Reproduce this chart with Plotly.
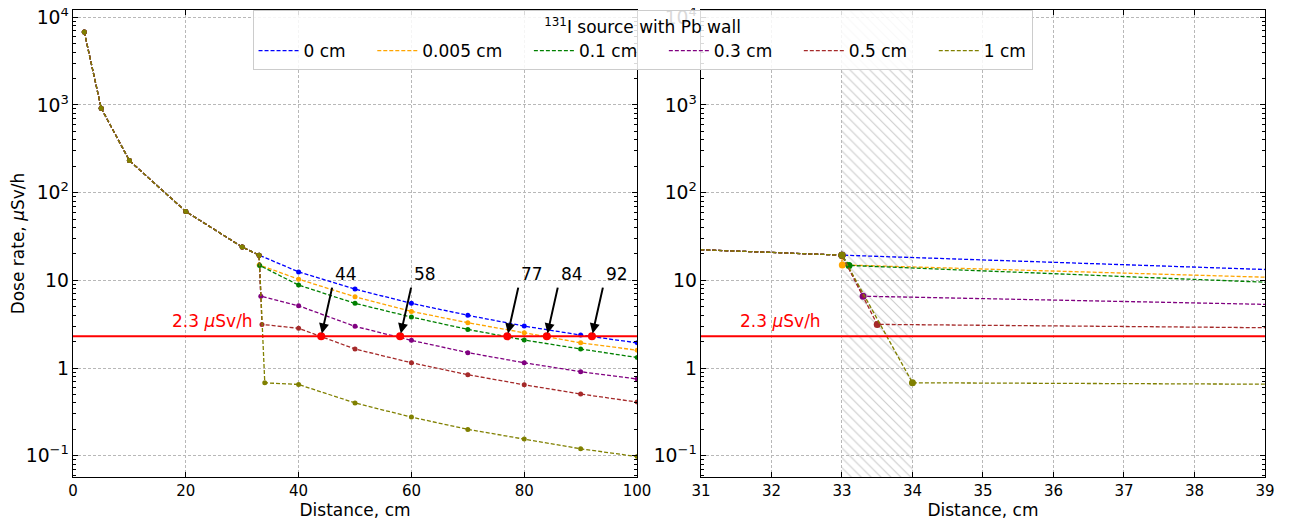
import math
import plotly.graph_objects as go

# ---------------- data ----------------
series_names = ["0 cm", "0.005 cm", "0.1 cm", "0.3 cm", "0.5 cm", "1 cm"]
series_colors = ["blue", "orange", "green", "purple", "brown", "olive"]
wall_thickness = [0, 0.005, 0.1, 0.3, 0.5, 1.0]

distance_near = [2, 5, 10, 20, 30, 33]
dose_near = [6800, 920, 232, 61, 24, 19.4]

dose_behind_wall = [None, 15.0, 14.8, 6.6, 3.15, 0.68]

distance_far = [40, 50, 60, 70, 80, 90, 100]
dose_far_0 = [12.5, 7.95, 5.47, 4.0, 3.01, 2.38, 1.94]
dose_far_0005 = [10.3, 6.5, 4.43, 3.29, 2.53, 1.94, 1.6]
dose_far_01 = [8.84, 5.47, 3.82, 2.76, 2.09, 1.65, 1.32]
dose_far_03 = [5.13, 2.99, 2.07, 1.5, 1.15, 0.91, 0.75]
dose_far_05 = [2.84, 1.65, 1.15, 0.84, 0.645, 0.506, 0.41]
dose_far_1 = [0.65, 0.40, 0.276, 0.20, 0.155, 0.12, 0.098]
dose_far = [dose_far_0, dose_far_0005, dose_far_01, dose_far_03, dose_far_05, dose_far_1]

limit_dose = 2.3
limit_label = "2.3 <i>μ</i>Sv/h"
crossing_distances = [44, 58, 77, 84, 92]

wall_start = 33
wall_end = 34

legend_title = "<sup>131</sup>I source with Pb wall"

# ---------------- figure ----------------
FONT = "DejaVu Sans"
LOG_RANGE = [-1.242, 4.083]
fig = go.Figure()

# hatched wall in the right panel (drawn first, behind lines)
ymin_plot, ymax_plot = 10 ** LOG_RANGE[0], 10 ** LOG_RANGE[1]
fig.add_trace(go.Scatter(
    x=[wall_start, wall_end, wall_end, wall_start, wall_start],
    y=[ymin_plot, ymin_plot, ymax_plot, ymax_plot, ymin_plot],
    mode="lines", fill="toself",
    line=dict(color="rgba(0,0,0,0)", width=0),
    fillcolor="rgba(0,0,0,0)",
    fillpattern=dict(shape="\\", fgcolor="#9a9a9a",
                     bgcolor="rgba(0,0,0,0)", size=7, solidity=0.16),
    showlegend=False, hoverinfo="skip", xaxis="x2", yaxis="y2"))

for i, name in enumerate(series_names):
    xs = list(distance_near)
    ys = list(dose_near)
    if dose_behind_wall[i] is not None:
        xs.append(wall_start + wall_thickness[i])
        ys.append(dose_behind_wall[i])
    xs += distance_far
    ys += dose_far[i]
    for xa, ya, msize in (("x", "y", 5), ("x2", "y2", 7)):
        fig.add_trace(go.Scatter(
            x=xs, y=ys, mode="lines+markers", name=name,
            line=dict(color=series_colors[i], width=1.3, dash="4px,2px"),
            marker=dict(color=series_colors[i], size=msize),
            xaxis=xa, yaxis=ya, showlegend=False,
        ))
    # legend-only entry (dashed line, no marker), padded for column spacing
    pad = "\u00a0" * 4 if i < len(series_names) - 1 else ""
    fig.add_trace(go.Scatter(
        x=[None], y=[None], mode="lines", name=name + pad,
        line=dict(color=series_colors[i], width=1.3, dash="4px,2px"),
        xaxis="x", yaxis="y", showlegend=True, legendrank=i + 1))

# crossing points
fig.add_trace(go.Scatter(
    x=crossing_distances, y=[limit_dose] * len(crossing_distances),
    mode="markers", marker=dict(color="red", size=8),
    showlegend=False, xaxis="x", yaxis="y"))

# limit lines
for xr, yr, x0, x1 in (("x", "y", 0, 100), ("x2", "y2", 31, 39)):
    fig.add_shape(type="line", xref=xr, yref=yr, x0=x0, x1=x1,
                  y0=limit_dose, y1=limit_dose,
                  line=dict(color="red", width=2))

annotations = []
for xr, yr, xt in (("x", "y", 17.2), ("x2", "y2", 31.52)):
    annotations.append(dict(x=xt, y=math.log10(limit_dose), xref=xr, yref=yr,
                            text=limit_label, showarrow=False,
                            xanchor="left", yanchor="bottom", yshift=3,
                            font=dict(color="red", size=17, family=FONT)))

tail_y = math.log10(8.6)
for d in crossing_distances:
    annotations.append(dict(x=d, y=math.log10(limit_dose), xref="x", yref="y",
                            ax=d + 2, ay=tail_y, axref="x", ayref="y",
                            text="", showarrow=True, arrowhead=2, arrowsize=1,
                            arrowwidth=2, arrowcolor="black", standoff=3))
    annotations.append(dict(x=d + 2.1, y=tail_y, xref="x", yref="y",
                            text=str(d), showarrow=False, xanchor="left",
                            yanchor="bottom", yshift=0,
                            font=dict(size=17, color="black", family=FONT)))

axis_common = dict(showline=True, linecolor="black", linewidth=1.2, mirror="allticks",
                   ticks="inside", ticklen=5, tickcolor="black", automargin=False,
                   ticklabeloverflow="allow",
                   showgrid=True, gridcolor="#b8b8b8", griddash="3px,2px", gridwidth=0.8,
                   zeroline=False, tickfont=dict(size=15, family=FONT, color="black"))
yaxis_common = dict(axis_common, type="log", range=LOG_RANGE, dtick=1,
                    exponentformat="power",
                    minor=dict(ticks="inside", ticklen=3, tickcolor="black",
                               dtick="D1", showgrid=False))

# page body has an 8px default margin: shrink figure to fit the window
fig.update_layout(
    width=1283, height=514,
    margin=dict(l=65, r=26, t=2, b=45, autoexpand=False),
    paper_bgcolor="white", plot_bgcolor="white",
    font=dict(family=FONT, size=15, color="black"),
    xaxis=dict(axis_common, domain=[0, 0.4732], range=[0, 100], dtick=20,
               title=dict(text="Distance, cm", font=dict(size=17), standoff=2)),
    xaxis2=dict(axis_common, domain=[0.5268, 1], range=[31, 39], dtick=1,
                title=dict(text="Distance, cm", font=dict(size=17), standoff=2)),
    yaxis=dict(yaxis_common, anchor="x",
               title=dict(text="Dose rate, <i>μ</i>Sv/h", font=dict(size=17), standoff=6)),
    yaxis2=dict(yaxis_common, anchor="x2"),
    legend=dict(orientation="h", x=0.4778, y=1.0, xanchor="center", yanchor="top",
                bgcolor="rgba(255,255,255,0.85)", bordercolor="#cccccc", borderwidth=1,
                font=dict(size=17, family=FONT),
                title=dict(text=legend_title, side="top center", font=dict(size=17)),
                entrywidth=0, itemwidth=40),
    annotations=annotations,
)

fig.write_html("out.html")
